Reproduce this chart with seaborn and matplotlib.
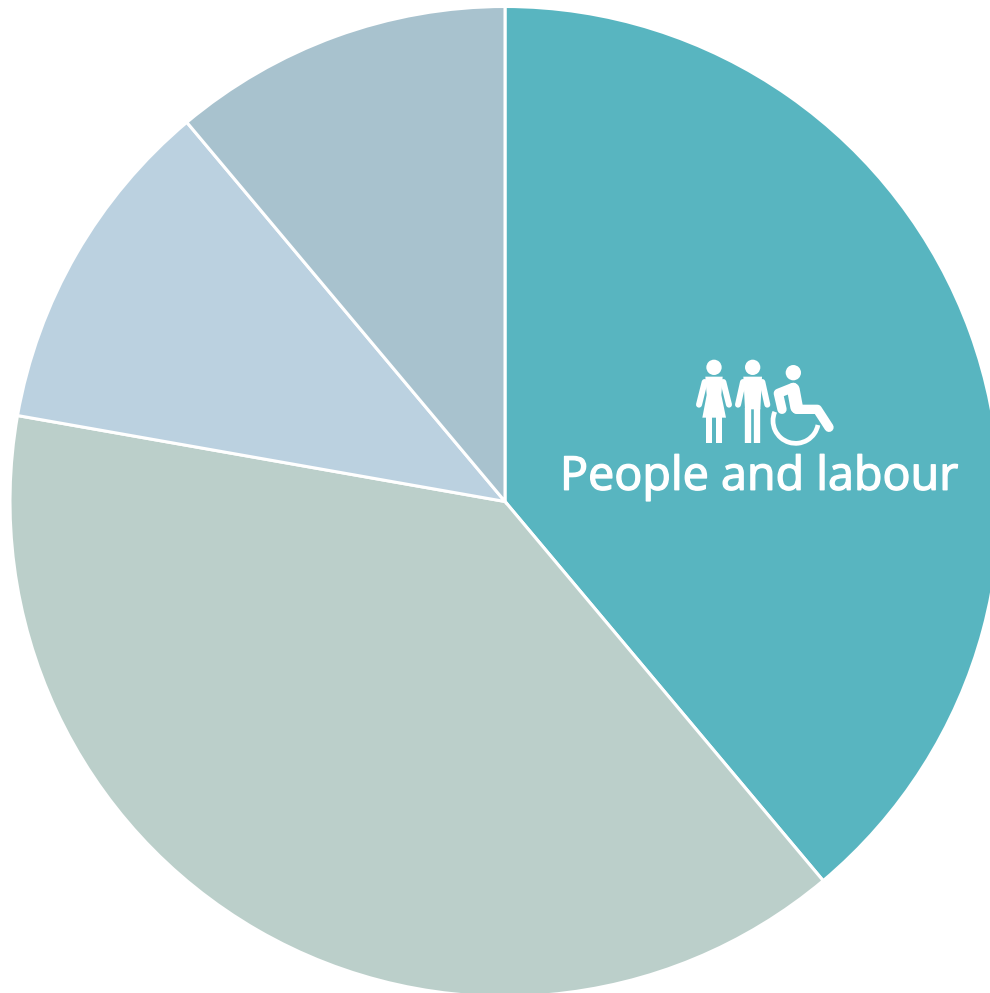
import matplotlib
matplotlib.use("Agg")
import matplotlib.pyplot as plt
import matplotlib.patheffects as pe
from matplotlib.patches import Circle, Polygon, Arc
import seaborn as sns

# Share of topics per theme; only the first one is labelled
themes = ["People and labour", "Theme B", "Theme C", "Theme D"]
shares = [7, 7, 2, 2]
theme_colors = ["#58B5C0", "#BBCFCA", "#BBD1E0", "#A8C2CE"]

WIDTH, HEIGHT = 990, 993
sns.set_theme(style="white")
plt.rcParams["font.family"] = ["Open Sans", "Noto Sans", "DejaVu Sans"]

fig = plt.figure(figsize=(WIDTH / 100, HEIGHT / 100), dpi=100, facecolor="white")
ax = fig.add_axes([0, 0, 1, 1])
palette = sns.color_palette(theme_colors)
ax.pie(
    shares,
    colors=palette,
    startangle=90,
    counterclock=False,
    center=(505, HEIGHT - 501.5),
    radius=495,
    frame=True,
    wedgeprops={"edgecolor": "white", "linewidth": 2.2},
)
ax.set_xlim(0, WIDTH)
ax.set_ylim(0, HEIGHT)
ax.set_aspect("equal")
ax.axis("off")

ax.text(759, HEIGHT - 477, themes[0], color="white", fontsize=33.6,
        ha="center", va="center",
        path_effects=[pe.withStroke(linewidth=1.0, foreground="white")])


# Pictogram helpers: coordinates are in a 3x grid anchored at the icon's corner
def gx(x):
    return 680 + x / 3


def gy(y):
    return HEIGHT - (350 + y / 3)


def stroke(points, width):
    ax.plot([gx(p[0]) for p in points], [gy(p[1]) for p in points], color="white",
            lw=width / 3 * 0.72, solid_capstyle="round", solid_joinstyle="round")


def bar(points, width):
    ax.plot([gx(p[0]) for p in points], [gy(p[1]) for p in points], color="white",
            lw=width / 3 * 0.72, solid_capstyle="butt", solid_joinstyle="miter")


def head(x, y, r):
    ax.add_patch(Circle((gx(x), gy(y)), r / 3, color="white", lw=0))


def fill(points):
    ax.add_patch(Polygon([(gx(a), gy(b)) for a, b in points], closed=True,
                         color="white", lw=0))


# Woman
head(102, 52, 23)
fill([(76, 80), (128, 80), (124, 135), (138, 203), (67, 203), (80, 135)])
stroke([(74, 96), (57, 164)], 18)
stroke([(130, 96), (147, 164)], 18)
bar([(88, 200), (88, 278)], 18)
bar([(116, 200), (116, 278)], 18)

# Man
head(218, 52, 23)
fill([(190, 80), (246, 80), (241, 178), (195, 178)])
stroke([(189, 96), (174, 164)], 18)
stroke([(247, 96), (262, 164)], 18)
bar([(204, 175), (204, 278)], 19)
bar([(232, 175), (232, 278)], 19)

# Wheelchair user
head(340, 68, 23)
stroke([(340, 118), (350, 172)], 38)
stroke([(350, 178), (412, 178), (447, 232)], 28)
stroke([(340, 112), (295, 130), (306, 178)], 28)
ax.add_patch(Arc((gx(347), gy(212)), 136 / 3, 136 / 3, theta1=157, theta2=349,
                 color="white", lw=3.4))

fig.savefig("out.png", dpi=100, facecolor="white")
